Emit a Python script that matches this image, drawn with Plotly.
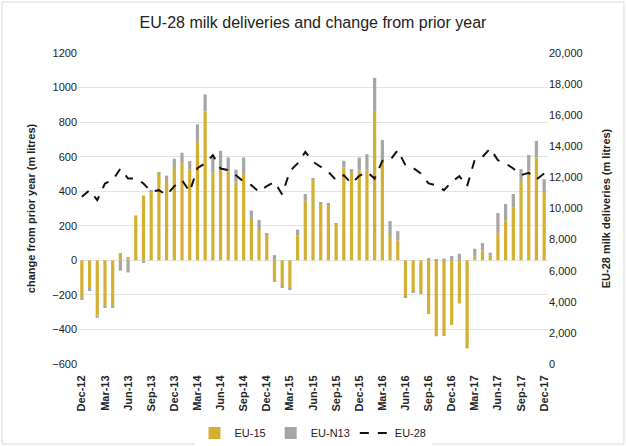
import pandas as pd
import plotly.graph_objects as go

months = list(pd.date_range("2012-12-01", "2017-12-01", freq="MS").strftime("%b-%y"))

eu15 = [-220, -160, -320, -265, -265, 42, 20, 260, 375, 400, 505, 460, 540, 560, 525,
        690, 862, 510, 530, 515, 450, 500, 240, 175, 150, -125, -150, -165, 144, 345,
        465, 330, 325, 212, 538, 500, 520, 520, 864, 576, 140, 115, -212, -183, -190,
        -311, -440, -438, -374, -250, -509, 20, 58, 30, 154, 230, 307, 460, 518, 595, 394]
eun13 = [-5, -17, -12, -10, -10, -60, -70, 0, -15, 3, 5, 30, 48, 63, 50,
         97, 98, 95, 104, 80, 75, 95, 48, 59, 4, 30, -7, -4, 34, 39,
         8, 6, 5, 3, 38, 28, 75, 94, 192, 121, 87, 54, -3, -3, -2,
         13, 5, 10, 25, 38, 0, 47, 42, 14, 119, 96, 77, 68, 92, 96, 76]
eu28 = [10750, 11180, 10540, 11610, 11820, 12570, 11930, 11930, 11610, 11070, 11180,
        10860, 11440, 11820, 11070, 12600, 12900, 13430, 12570, 12470, 12140, 11715,
        11500, 11070, 11436, 11715, 10900, 12400, 12895, 13640, 13000, 12680, 12357,
        11822, 12143, 11610, 12100, 12357, 11930, 13063, 13107, 13750, 12786, 12612,
        12250, 11610, 11500, 11180, 11715, 12079, 11436, 13150, 13320, 13860, 13107,
        12895, 12573, 12143, 12290, 11865, 12250]

tick_labels = months[::3]

font = "Liberation Sans, Arial, sans-serif"

fig = go.Figure()
fig.add_trace(go.Bar(x=months, y=eu15, name="EU-15", marker_color="#D4B032",
                     marker_line_width=0))
fig.add_trace(go.Bar(x=months, y=eun13, name="EU-N13", marker_color="#A6A6A6",
                     marker_line_width=0))
fig.add_trace(go.Scatter(x=months, y=eu28, name="EU-28", mode="lines", yaxis="y2",
                         line=dict(color="#111111", width=2, dash="dash")))

W, H = 626, 446
ml, mr, mt, mb = 78, 78, 53, 82

fig.update_layout(
    width=W, height=H,
    margin=dict(l=ml, r=mr, t=mt, b=mb, autoexpand=False),
    paper_bgcolor="white", plot_bgcolor="white",
    barmode="relative", bargap=0.58,
    font=dict(family=font, size=11, color="#222222"),
    title=dict(text="EU-28 milk deliveries and change from prior year",
               x=0.5, xanchor="center", y=1 - 22 / H, yanchor="middle",
               font=dict(size=16, color="#222222", family=font)),
    xaxis=dict(type="category", tickmode="array", tickvals=tick_labels,
               ticktext=["<b>%s</b>" % t for t in tick_labels], tickangle=-90,
               showgrid=False, showline=False, ticks="outside", ticklen=6,
               tickcolor="rgba(0,0,0,0)", automargin=False,
               tickfont=dict(size=11, color="#222222")),
    yaxis=dict(range=[-600, 1200], dtick=200, showgrid=True, gridcolor="#E3E3E3",
               gridwidth=1, zeroline=False, ticks="", tickfont=dict(size=11),
               automargin=False,
               title=dict(text="<b>change from prior year (m litres)</b>",
                          font=dict(size=11), standoff=14)),
    yaxis2=dict(range=[0, 20000], dtick=2000, overlaying="y", side="right",
                showgrid=False, zeroline=False, tickformat=",", ticks="",
                tickfont=dict(size=11), automargin=False,
                title=dict(text="<b>EU-28 milk deliveries (m litres)</b>",
                           font=dict(size=11), standoff=20)),
    legend=dict(orientation="h", x=0.5, xanchor="center", xref="container",
                y=1 - 433 / H, yanchor="middle", yref="container",
                font=dict(size=11), traceorder="normal"),
)

ph = H - mt - mb
pw = W - ml - mr
fig.add_shape(type="rect", xref="paper", yref="paper",
              x0=(2 - ml) / pw, x1=(W - 2 - ml) / pw,
              y0=-(mb - 2) / ph, y1=1 + (mt - 2) / ph,
              line=dict(color="#D9D9D9", width=1), fillcolor="rgba(0,0,0,0)", layer="below")

fig.write_html("out.html")
